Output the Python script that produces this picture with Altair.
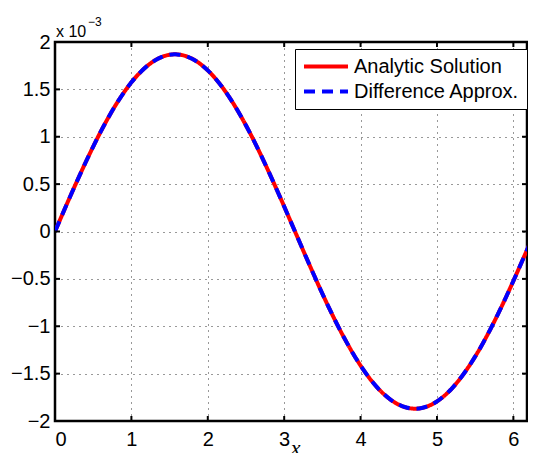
import math
import altair as alt
import pandas as pd

# x positions (rad) and curve values (units of 1e-3)
x_values = [0.0, 0.2, 0.4, 0.6, 0.8, 1.0, 1.2, 1.4, 1.6, 1.8, 2.0, 2.2, 2.4, 2.6,
            2.8, 3.0, 3.2, 3.4, 3.6, 3.8, 4.0, 4.2, 4.4, 4.6, 4.8, 5.0, 5.2, 5.4,
            5.6, 5.8, 6.0, 6.2, 6.2832]
analytic = [0.0, 0.372, 0.728, 1.056, 1.342, 1.574, 1.743, 1.843, 1.869, 1.821,
            1.700, 1.512, 1.263, 0.964, 0.626, 0.264, -0.109, -0.478, -0.828,
            -1.144, -1.415, -1.630, -1.779, -1.858, -1.863, -1.793, -1.652,
            -1.445, -1.181, -0.869, -0.522, -0.155, 0.0]
approx = [0.0, 0.372, 0.728, 1.056, 1.342, 1.574, 1.743, 1.843, 1.869, 1.821,
          1.700, 1.512, 1.263, 0.964, 0.626, 0.264, -0.109, -0.478, -0.828,
          -1.144, -1.415, -1.630, -1.779, -1.858, -1.863, -1.793, -1.652,
          -1.445, -1.181, -0.869, -0.522, -0.155, 0.0]
series_names = ["Analytic Solution", "Difference Approx."]
x_ticks = [0, 1, 2, 3, 4, 5, 6]
y_ticks = [-2, -1.5, -1, -0.5, 0, 0.5, 1, 1.5, 2]

W, H = 472, 379
XR = 480
FONT = "Liberation Sans"

rows = []
for name, vals in zip(series_names, [analytic, approx]):
    for xv, yv in zip(x_values, vals):
        rows.append({"x": xv, "y": yv, "series": name})
df = pd.DataFrame(rows)

xscale = alt.Scale(domain=[0, 2 * math.pi], range=[0, XR], nice=False, zero=False)
yscale = alt.Scale(domain=[-2, 2], nice=False, zero=False)

lines = alt.Chart(df).mark_line(strokeWidth=4, interpolate="natural", clip=True).encode(
    x=alt.X("x:Q", scale=xscale,
            axis=alt.Axis(values=x_ticks, format="d", title="x", grid=True,
                          ticks=False, domain=False, labelPadding=8,
                          titleFont="Liberation Serif", titleFontStyle="italic",
                          titleFontWeight="normal", titleFontSize=22,
                          titlePadding=-12)),
    y=alt.Y("y:Q", scale=yscale,
            axis=alt.Axis(values=y_ticks, format="~g", title=None, grid=True,
                          ticks=False, domain=False, labelPadding=5)),
    color=alt.Color("series:N",
                    scale=alt.Scale(domain=series_names, range=["#ff0000", "#0000ff"]),
                    legend=alt.Legend(title=None, orient="none", legendX=240, legendY=7,
                                      fillColor="white", strokeColor="black",
                                      padding=7, symbolType="stroke",
                                      symbolStrokeWidth=4, symbolSize=1936,
                                      clipHeight=21, labelLimit=0,
                                      labelFontSize=20, labelFont=FONT,
                                      labelColor="black", labelOffset=4,
                                      rowPadding=4)),
    strokeDash=alt.StrokeDash("series:N",
                              scale=alt.Scale(domain=series_names, range=[[1, 0], [11, 7]]),
                              legend=alt.Legend(title=None, orient="none", legendX=240,
                                                legendY=7)),
)

xt = pd.DataFrame({"v": x_ticks})
yt = pd.DataFrame({"v": y_ticks})
tick_style = dict(color="black", strokeWidth=2)
xb = alt.Chart(xt).mark_rule(**tick_style).encode(
    x=alt.X("v:Q", scale=xscale), y=alt.value(H - 5), y2=alt.value(H))
xtop = alt.Chart(xt).mark_rule(**tick_style).encode(
    x=alt.X("v:Q", scale=xscale), y=alt.value(0), y2=alt.value(5))
yl = alt.Chart(yt).mark_rule(**tick_style).encode(
    y=alt.Y("v:Q", scale=yscale), x=alt.value(0), x2=alt.value(5))
yr = alt.Chart(yt).mark_rule(**tick_style).encode(
    y=alt.Y("v:Q", scale=yscale), x=alt.value(W - 5), x2=alt.value(W))

note = pd.DataFrame({"t": ["x 10"]})
sup = pd.DataFrame({"t": ["\u22123"]})
txt1 = alt.Chart(note).mark_text(align="left", baseline="alphabetic", fontSize=16,
                                 font=FONT, color="black").encode(
    text="t:N", x=alt.value(1), y=alt.value(-5))
txt2 = alt.Chart(sup).mark_text(align="left", baseline="alphabetic", fontSize=12,
                                font=FONT, color="black").encode(
    text="t:N", x=alt.value(33), y=alt.value(-16))

chart = alt.layer(lines, xb, xtop, yl, yr, txt1, txt2).properties(
    width=W, height=H,
    autosize=alt.AutoSizeParams(type="none"),
    padding={"left": 47, "top": 34, "right": 1, "bottom": 32},
).configure_view(stroke="black", strokeWidth=2.5).configure_axis(
    labelFont=FONT, labelFontSize=20, labelColor="black",
    gridColor="black", gridDash=[1, 5], gridOpacity=0.8, gridWidth=1,
    titleColor="black",
)

chart.save("out.html", embed_options={"renderer": "svg", "actions": False})
